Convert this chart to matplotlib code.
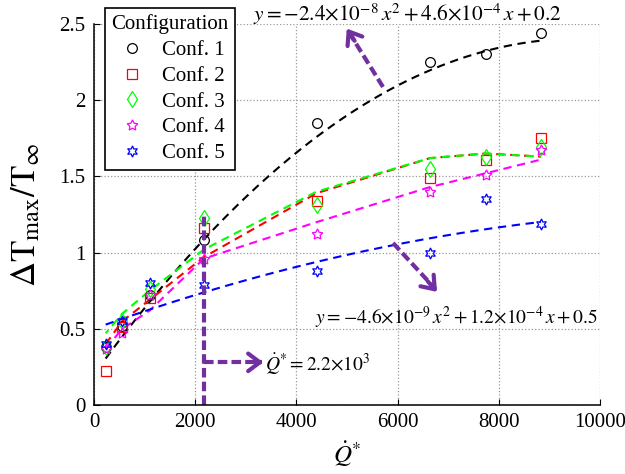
import numpy as np
import matplotlib
matplotlib.use('Agg')
import matplotlib.pyplot as plt

plt.rcParams['font.family'] = ['Liberation Serif', 'DejaVu Serif']
plt.rcParams['mathtext.fontset'] = 'stix'

# measured points for each configuration
q_star = [230, 560, 1100, 2170, 4400, 6640, 7740, 8830]
conf1 = [0.38, 0.52, 0.72, 1.08, 1.85, 2.25, 2.30, 2.44]
conf2 = [0.22, 0.51, 0.70, 1.16, 1.34, 1.49, 1.61, 1.75]
conf3 = [0.38, 0.55, 0.76, 1.23, 1.31, 1.55, 1.63, 1.69]
conf4 = [0.37, 0.47, 0.72, 0.96, 1.12, 1.40, 1.51, 1.67]
conf5 = [0.40, 0.55, 0.80, 0.79, 0.88, 1.00, 1.35, 1.19]

# trend curves for conf. 2-4
trend2 = [0.40, 0.55, 0.69, 0.97, 1.39, 1.62, 1.65, 1.63]
trend3 = [0.47, 0.60, 0.75, 1.02, 1.40, 1.62, 1.65, 1.63]
trend4 = [0.37, 0.50, 0.62, 0.96, 1.20, 1.43, 1.52, 1.61]

# quadratic fits for conf. 1 and conf. 5
fit1 = [-2.4e-8, 4.6e-4, 0.2]
fit5 = [-4.6e-9, 1.2e-4, 0.5]
q_crit = 2170

purple = '#7030A0'
dash = (0, (4, 2.7))

fig = plt.figure(figsize=(6.25, 4.74), dpi=100)
ax = fig.add_axes([0.1504, 0.1456, 0.8096, 0.8038])

xf = np.linspace(q_star[0], q_star[-1], 200)
ax.plot(xf, np.polyval(fit1, xf), color='k', lw=1.5, ls=dash)
ax.plot(q_star, trend2, color='r', lw=1.5, ls=dash)
ax.plot(q_star, trend3, color='#00ff00', lw=1.5, ls=(2, (4, 2.7)))
ax.plot(q_star, trend4, color='#ff00ff', lw=1.5, ls=dash)
ax.plot(xf, np.polyval(fit5, xf), color='b', lw=1.5, ls=dash)

mk = dict(ls='none', mfc='none', mew=0.9)
ax.plot(q_star, conf1, marker='o', color='k', ms=7, label='Conf. 1', **mk)
ax.plot(q_star, conf2, marker='s', color='r', ms=7, label='Conf. 2', **mk)
ax.plot(q_star, conf3, marker='d', color='#00ff00', ms=8, label='Conf. 3', **mk)
ax.plot(q_star, conf4, marker=(5, 1, 0), color='#ff00ff', ms=8, label='Conf. 4', **mk)
ax.plot(q_star, conf5, marker=(6, 1, 0), color='b', ms=8, label='Conf. 5', **mk)

# critical heat release marker
pdash = (0, (2.3, 1))
head = dict(arrowstyle='->,head_length=0.6,head_width=0.45', lw=3, color=purple,
            shrinkA=0, shrinkB=0, mutation_scale=14)
ax.plot([q_crit, q_crit], [0, 1.26], color=purple, lw=3, ls=pdash)
ax.plot([q_crit, 3330], [0.28, 0.28], color=purple, lw=3, ls=pdash)
ax.annotate('', xy=(3346, 0.28), xytext=(3200, 0.28), arrowprops=head)
ax.text(3380, 0.265, r'$\dot{Q}^{*}=2.2{\times}10^{3}$', fontsize=14,
        va='center', ha='left')

# arrows pointing at the fit equations
ax.plot([5711, 5030], [2.087, 2.45], color=purple, lw=3, ls=pdash)
ax.annotate('', xy=(4995, 2.47), xytext=(5150, 2.39), arrowprops=head)
ax.plot([5910, 6750], [1.063, 0.76], color=purple, lw=3, ls=pdash)
ax.annotate('', xy=(6779, 0.742), xytext=(6600, 0.81), arrowprops=head)

ax.text(3142, 2.566, r'$y=-2.4{\times}10^{-8}\,x^{2}+4.6{\times}10^{-4}\,x+0.2$',
        fontsize=15.3, va='center', ha='left', clip_on=False)
ax.text(4368, 0.571, r'$y=-4.6{\times}10^{-9}\,x^{2}+1.2{\times}10^{-4}\,x+0.5$',
        fontsize=14, va='center', ha='left')

ax.set_xlim(0, 10000)
ax.set_ylim(0, 2.5)
ax.set_xticks([0, 2000, 4000, 6000, 8000, 10000])
ax.set_yticks([0, 0.5, 1, 1.5, 2, 2.5])
ax.set_yticklabels(['0', '0.5', '1', '1.5', '2', '2.5'])
ax.grid(True, ls=':', color='#999999', lw=0.9)
ax.set_axisbelow(True)
for s in ['top', 'right']:
    ax.spines[s].set_visible(False)
for s in ['left', 'bottom']:
    ax.spines[s].set_linewidth(1.1)
ax.tick_params(direction='in', length=4, labelsize=15, pad=6)

ax.set_xlabel(r'$\dot{Q}^{*}$', fontsize=18)
ax.xaxis.set_label_coords(0.5, -0.09)
ax.set_ylabel(r'$\Delta\mathrm{T}_{\mathrm{max}}/\mathrm{T}_{\infty}$', fontsize=25)
ax.yaxis.set_label_coords(-0.1, 0.5)

leg = ax.legend(loc='upper left', bbox_to_anchor=(0.022, 1.042), borderaxespad=0,
                title='Configuration', fontsize=15, title_fontsize=15,
                fancybox=False, edgecolor='k', framealpha=1, labelspacing=0.3,
                handletextpad=0.6, borderpad=0.3, handlelength=1.6)
leg.get_frame().set_linewidth(1.2)

fig.savefig('out.png', dpi=100)
